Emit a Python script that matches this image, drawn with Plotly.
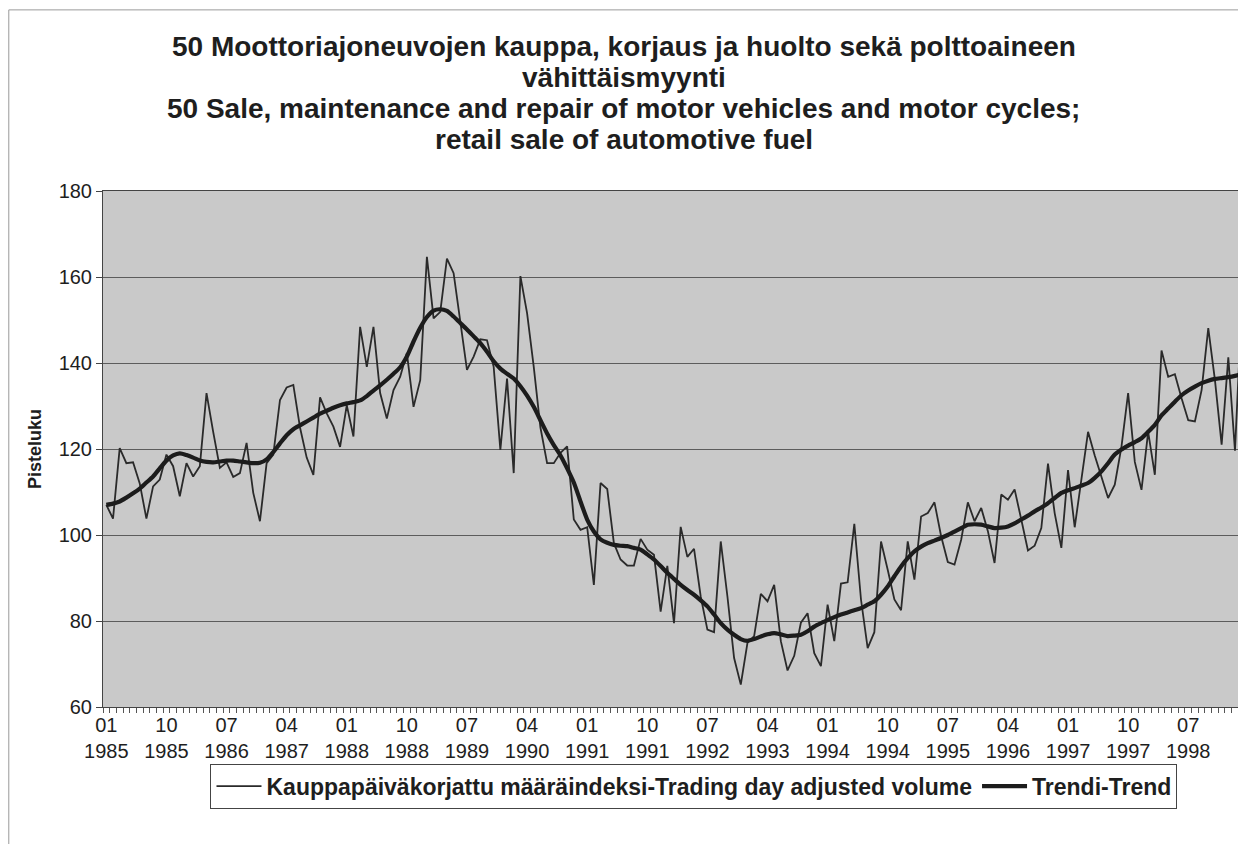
import plotly.graph_objects as go

# monthly index 1985-01 .. 1999-03
MONTHS = [f"{y}-{m:02d}" for y in range(1985, 2000) for m in range(1, 13)][:171]

# Kauppapäiväkorjattu määräindeksi (trading day adjusted volume)
VOLUME = [
    107.0, 103.8, 120.2, 116.7, 116.9, 112.0, 103.8, 111.3, 112.9, 118.7,
    116.0, 109.0, 116.7, 113.6, 116.0, 133.0, 124.0, 115.6, 116.9, 113.5,
    114.4, 121.4, 109.8, 103.2, 116.7, 118.7, 131.4, 134.3, 134.9, 125.0,
    118.0, 114.0, 132.0, 128.3, 125.2, 120.5, 130.2, 122.9, 148.4, 139.1,
    148.4, 133.0, 127.1, 133.7, 136.8, 142.3, 129.8, 136.0, 164.7, 150.4,
    151.9, 164.3, 160.9, 150.0, 138.4, 141.5, 145.5, 145.3, 139.1, 119.8,
    136.4, 114.4, 160.2, 151.6, 139.1, 125.0, 116.7, 116.7, 119.1, 120.6,
    103.6, 101.2, 101.8, 88.4, 112.1, 110.7, 98.1, 94.3, 92.9, 92.9,
    99.1, 96.6, 95.4, 82.2, 92.8, 79.5, 101.9, 94.9, 96.8, 85.7,
    78.0, 77.4, 98.5, 85.7, 71.4, 65.2, 74.9, 76.5, 86.3, 84.6,
    88.4, 75.3, 68.5, 71.9, 79.6, 81.8, 72.5, 69.5, 83.8, 75.3,
    88.7, 89.0, 102.6, 85.0, 73.7, 77.4, 98.5, 91.9, 85.0, 82.5,
    98.5, 89.6, 104.3, 105.1, 107.6, 99.7, 93.7, 93.1, 98.9, 107.6,
    103.2, 106.3, 100.9, 93.5, 109.4, 108.2, 110.6, 103.6, 96.4, 97.5,
    101.6, 116.6, 105.1, 97.0, 115.1, 101.8, 112.8, 124.0, 118.5, 113.6,
    108.6, 111.7, 120.5, 133.0, 117.0, 110.5, 124.0, 114.0, 142.9, 136.8,
    137.4, 131.8, 126.7, 126.4, 133.7, 148.1, 136.0, 121.0, 141.3, 119.6,
    153.0,
]

# Trendi (trend)
TREND = [
    107.0, 107.3, 107.8, 108.7, 109.7, 110.8, 112.2, 113.6, 115.5, 117.3,
    118.5, 119.0, 118.6, 118.0, 117.3, 117.0, 116.9, 117.1, 117.3, 117.3,
    117.1, 116.9, 116.7, 116.8, 117.6, 119.3, 121.3, 123.2, 124.6, 125.5,
    126.4, 127.3, 128.2, 128.9, 129.6, 130.2, 130.6, 130.9, 131.3, 132.3,
    133.6, 134.8, 136.1, 137.5, 139.0, 141.5, 145.0, 148.2, 150.7, 152.2,
    152.5, 152.1, 150.8, 149.3, 147.8, 146.2, 144.6, 142.6, 140.4, 138.7,
    137.5, 136.4, 134.6, 132.4, 129.8, 126.7, 123.6, 120.9, 118.5, 115.5,
    112.2, 107.8, 103.6, 100.8, 99.0, 98.2, 97.7, 97.5, 97.4, 97.0,
    96.6, 95.5, 94.3, 92.8, 91.2, 89.8, 88.4, 87.2, 86.1, 84.8,
    83.4, 81.5, 79.5, 78.0, 76.8, 75.8, 75.4, 75.8, 76.4, 76.9,
    77.2, 76.9, 76.5, 76.6, 76.8, 77.6, 78.7, 79.5, 80.2, 80.9,
    81.5, 82.0, 82.5, 83.0, 83.8, 84.6, 86.1, 88.0, 90.4, 92.7,
    94.6, 96.2, 97.3, 98.1, 98.7, 99.3, 100.0, 100.8, 101.6, 102.4,
    102.5, 102.4, 102.0, 101.6, 101.7, 102.0, 102.7, 103.6, 104.5, 105.5,
    106.4, 107.4, 108.6, 109.8, 110.4, 110.9, 111.5, 112.1, 113.3, 114.8,
    116.7, 118.7, 119.9, 120.8, 121.6, 122.5, 124.0, 125.6, 127.8, 129.4,
    131.0, 132.5, 133.6, 134.5, 135.3, 135.9, 136.3, 136.5, 136.7, 137.0,
    137.4,
]

TICK_LABELS = ["01<br>1985", "10<br>1985", "07<br>1986", "04<br>1987", "01<br>1988",
               "10<br>1988", "07<br>1989", "04<br>1990", "01<br>1991", "10<br>1991",
               "07<br>1992", "04<br>1993", "01<br>1994", "10<br>1994", "07<br>1995",
               "04<br>1996", "01<br>1997", "10<br>1997", "07<br>1998"]

TITLE_LINES = ["50 Moottoriajoneuvojen kauppa, korjaus ja huolto sekä polttoaineen",
               "vähittäismyynti",
               "50 Sale, maintenance and repair of motor vehicles and motor cycles;",
               "retail sale of automotive fuel"]

FONT = "Liberation Sans, Arial, Helvetica, sans-serif"
INK = "#1e1e1e"

x = list(range(len(MONTHS)))
tick_pos = [MONTHS.index(f"{t.split('<br>')[1]}-{t.split('<br>')[0]}") for t in TICK_LABELS]

fig = go.Figure()
fig.add_trace(go.Scatter(x=x, y=VOLUME, mode="lines", customdata=MONTHS,
                         name="<b>Kauppapäiväkorjattu määräindeksi-Trading day adjusted volume</b>",
                         line=dict(color="#2a2a2a", width=1.8)))
fig.add_trace(go.Scatter(x=x, y=TREND, mode="lines", customdata=MONTHS,
                         name="<b>Trendi-Trend</b>",
                         line=dict(color="#1c1c1c", width=4.2, shape="spline", smoothing=0.6)))

# title, one annotation per line
for k, line in enumerate(TITLE_LINES):
    fig.add_annotation(text=f"<b>{line}</b>", xref="paper", yref="paper",
                       x=0.4562, y=1.281 - k * 0.0601, xanchor="center", yanchor="middle",
                       showarrow=False, font=dict(size=28, family=FONT, color=INK))

# outer chart frame
fig.add_shape(type="rect", xref="paper", yref="paper", x0=-0.0825, x1=1.01, y0=-0.4, y1=1.351,
              line=dict(color="#9a9a9a", width=1), layer="below")

fig.update_xaxes(range=[-0.5, len(MONTHS) - 0.5], tickvals=tick_pos, ticktext=TICK_LABELS,
                 ticks="", showgrid=False, zeroline=False,
                 showline=True, linecolor="#444", linewidth=1, mirror=True,
                 tickfont=dict(size=20, family=FONT, color=INK),
                 minor=dict(ticks="outside", tick0=-0.5, dtick=1, ticklen=5,
                            tickcolor="#555", tickwidth=1, showgrid=False))
fig.update_yaxes(range=[60, 180], tickvals=[60, 80, 100, 120, 140, 160, 180],
                 ticks="outside", ticklen=6, tickcolor="#444",
                 showgrid=True, gridcolor="#5c5c5c", gridwidth=1, zeroline=False,
                 showline=True, linecolor="#444", linewidth=1, mirror=True,
                 tickfont=dict(size=20, family=FONT, color=INK),
                 title=dict(text="<b>Pisteluku</b>", standoff=12,
                            font=dict(size=18, family=FONT, color=INK)))

# page body adds an 8px offset, so the figure is 8px smaller than the window
fig.update_layout(width=1238, height=836,
                  margin=dict(l=95, r=1, t=183, b=137),
                  paper_bgcolor="white", plot_bgcolor="#c9c9c9",
                  font=dict(family=FONT, color=INK),
                  legend=dict(orientation="h", x=0.5175, xanchor="center", y=-0.11, yanchor="top",
                              bordercolor="#444", borderwidth=1, bgcolor="white",
                              font=dict(size=23, family=FONT, color=INK),
                              itemwidth=45, tracegroupgap=0),
                  hovermode="x")

fig.write_html("out.html")
